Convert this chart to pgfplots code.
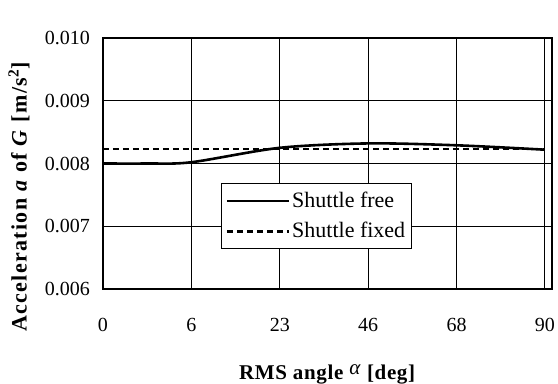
\documentclass[border=0pt]{standalone}
\usepackage{pgfplots}
\pgfplotsset{compat=1.18}
\usepackage{fontspec}
\setmainfont{Liberation Serif}
\begin{document}
\begin{tikzpicture}
\begin{axis}[
  scale only axis,
  width=224.5pt, height=125.5pt,
  xmin=0, xmax=5.08,
  ymin=0.006, ymax=0.010,
  xtick={0,1,2,3,4,5},
  xticklabels={0,6,23,46,68,90},
  ytick={0.006,0.007,0.008,0.009,0.010},
  major tick length=0pt,
  grid=major,
  major grid style={black, line width=0.5pt},
  axis line style={black, line width=0.8pt},
  /pgf/number format/assume math mode=true,
  yticklabel style={/pgf/number format/fixed, /pgf/number format/fixed zerofill, /pgf/number format/precision=3, font=\fontsize{10}{12}\selectfont, xshift=-3pt},
  xticklabel style={font=\fontsize{10}{12}\selectfont, yshift=-11pt},
  scaled y ticks=false,
  xlabel={\addfontfeature{LetterSpace=3}\textbf{RMS angle \raisebox{2.5pt}{\textmd{\textit{α}}} [deg]}},
  xlabel style={font=\fontsize{10.5}{12}\selectfont, at={(rel axis cs:0.5,-0.3625)}, anchor=base},
  ylabel={\addfontfeature{LetterSpace=6}\textbf{Acceleration \textit{a} of \textit{G} [m/s\textsuperscript{2}]}},
  ylabel style={font=\fontsize{11}{12}\selectfont, at={(rel axis cs:-0.187,0.37)}, anchor=center, rotate=0},
  legend style={at={(rel axis cs:0.2628,0.4223)}, anchor=north west, draw=black, line width=0.6pt, font=\fontsize{11}{13}\selectfont, inner sep=2pt, row sep=2pt, legend cell align=left, nodes={inner xsep=1pt}},
  legend image code/.code={\draw[#1] (0pt,0pt) -- (31pt,0pt);},
]
\addplot[black, line width=1.3pt, smooth, tension=0.5] coordinates {
  (0,0.00800) (0.5,0.00800) (1,0.00802) (2,0.00825) (3,0.00832) (4,0.00829) (5,0.00822)
};
\addlegendentry{Shuttle free}
\addplot[black, line width=1.3pt, dash pattern=on 3pt off 2pt] coordinates {
  (0,0.00823) (5,0.00823)
};
\addlegendentry{Shuttle fixed}
\coordinate (bl) at (rel axis cs:-0.2294,-0.3785);
\coordinate (tr) at (rel axis cs:1.0134,1.1514);
\end{axis}
\pgfresetboundingbox
\path[use as bounding box] (bl) rectangle (tr);
\end{tikzpicture}
\end{document}
